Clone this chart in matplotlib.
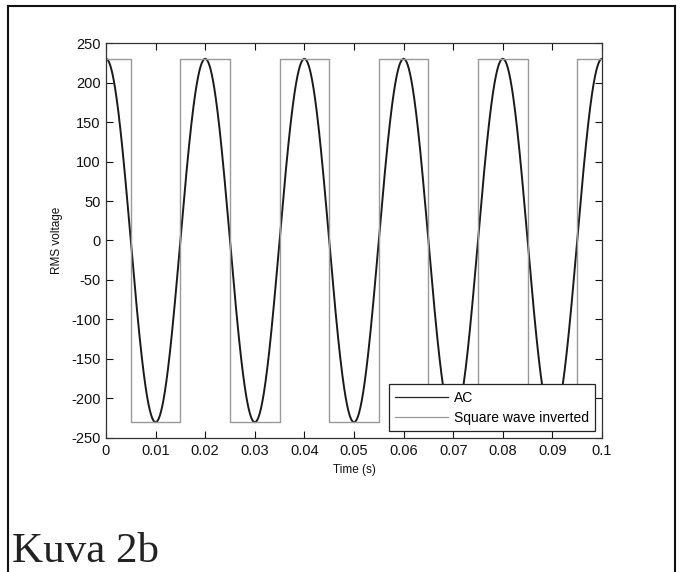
import matplotlib.pyplot as plt
import numpy as np
from matplotlib.lines import Line2D

# AC signal: 230 V peak, 50 Hz, starts at the peak
ac_amplitude = 230
ac_frequency = 50
t_end = 0.1

# inverted square wave: level changes at these times
square_times = [0, 0.005, 0.015, 0.025, 0.035, 0.045, 0.055, 0.065, 0.075, 0.085, 0.095, 0.1]
square_levels = [230, -230, 230, -230, 230, -230, 230, -230, 230, -230, 230]

x_ticks = [0, 0.01, 0.02, 0.03, 0.04, 0.05, 0.06, 0.07, 0.08, 0.09, 0.1]
x_tick_labels = ['0', '0.01', '0.02', '0.03', '0.04', '0.05', '0.06', '0.07', '0.08', '0.09', '0.1']
y_ticks = [-250, -200, -150, -100, -50, 0, 50, 100, 150, 200, 250]
y_tick_labels = [str(v) for v in y_ticks]

plt.rcParams['font.family'] = ['Liberation Sans', 'DejaVu Sans']
plt.rcParams['axes.unicode_minus'] = False

fig = plt.figure(figsize=(6.82, 5.72), dpi=100)
ax = fig.add_axes([0.1554, 0.2343, 0.7273, 0.6905])

t = np.linspace(0, t_end, 2001)
ac = ac_amplitude * np.cos(2 * np.pi * ac_frequency * t)
ax.plot(t, ac, color='#1a1a1a', lw=1.4, label='AC')

# square wave as steps
sq_x = []
sq_y = []
for i, lvl in enumerate(square_levels):
    sq_x += [square_times[i], square_times[i + 1]]
    sq_y += [lvl, lvl]
ax.plot(sq_x, sq_y, color='#999999', lw=1.0, label='Square wave inverted')

ax.set_xlim(0, 0.1)
ax.set_ylim(-250, 250)
ax.set_xticks(x_ticks)
ax.set_xticklabels(x_tick_labels)
ax.set_yticks(y_ticks)
ax.set_yticklabels(y_tick_labels)
ax.tick_params(direction='in', top=True, right=True, length=5, width=0.8,
               labelsize=10.5, colors='#111111', pad=4)
for s in ax.spines.values():
    s.set_color('#333333')
    s.set_linewidth(0.9)

ax.set_xlabel('Time (s)', fontsize=8.5, color='#111111', labelpad=5)
ax.set_ylabel('RMS voltage', fontsize=8.5, color='#111111', labelpad=6)

handles = [Line2D([], [], color='#222222', lw=0.9), Line2D([], [], color='#999999', lw=0.9)]
leg = ax.legend(handles, ['AC', 'Square wave inverted'], loc='lower right', fontsize=10,
                frameon=True, fancybox=False, edgecolor='#222222', framealpha=1,
                handlelength=3.8, handletextpad=0.4, borderaxespad=0.5,
                labelspacing=0.45, borderpad=0.45)
leg.get_frame().set_linewidth(0.9)

# scanned page frame (no bottom edge)
W, H = 682, 572
fig.add_artist(Line2D([8 / W, 8 / W], [0, 1 - 6 / H], color='#111111', lw=1.5))
fig.add_artist(Line2D([8 / W, 675 / W], [1 - 6 / H, 1 - 6 / H], color='#111111', lw=1.5))
fig.add_artist(Line2D([675 / W, 675 / W], [0, 1 - 6 / H], color='#111111', lw=1.5))

fig.text(12 / W, 1 - 562 / H, 'Kuva 2b', fontsize=31, family='Liberation Serif', color='#222222')

fig.savefig('out.png', dpi=100)
